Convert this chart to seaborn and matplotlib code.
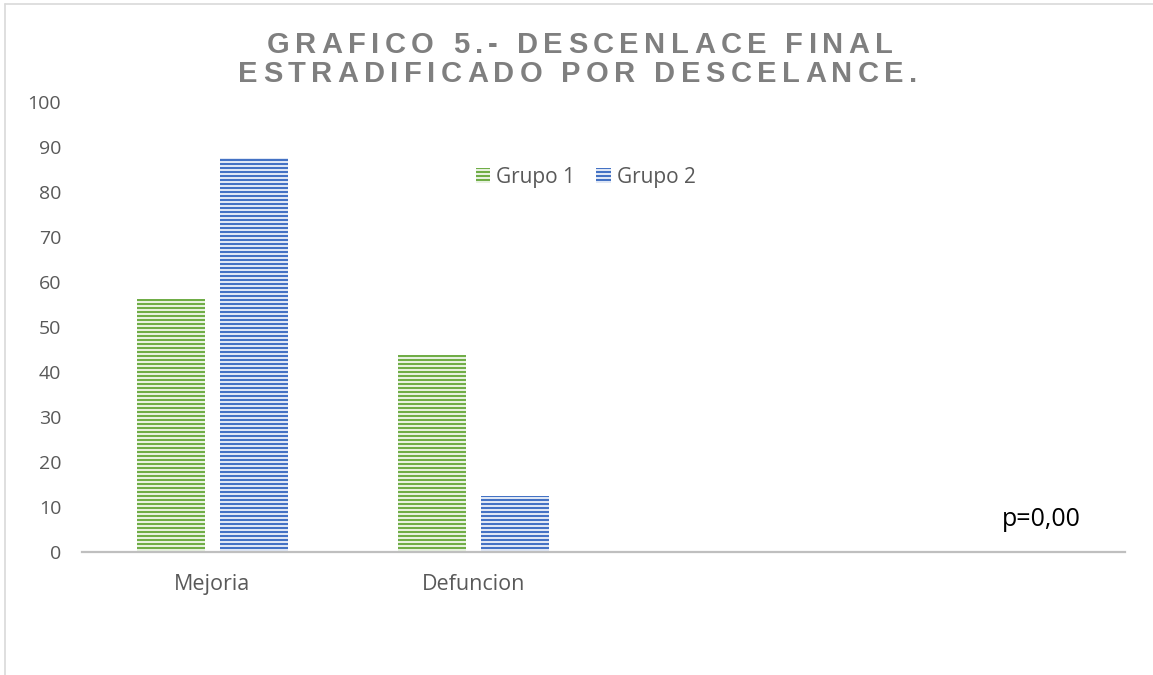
import numpy as np
import pandas as pd
import matplotlib
matplotlib.use('Agg')
import matplotlib.pyplot as plt
import seaborn as sns
from matplotlib.patches import Patch
from matplotlib.lines import Line2D

# ── Data ──────────────────────────────────────────────────────────────
categories = ['Mejoria', 'Defuncion']
groups = ['Grupo 1', 'Grupo 2']
grupo1 = [56.25, 43.75]
grupo2 = [87.5, 12.5]
yticks = list(range(0, 101, 10))
p_text = 'p=0,00'
title_lines = ['GRAFICO 5.- DESCENLACE FINAL',
               'ESTRADIFICADO POR DESCELANCE.']

colors = ['#70AD47', '#4472C4']
text_gray = '#595959'

df = pd.DataFrame({
    'categoria': categories * 2,
    'grupo': [g for g in groups for _ in categories],
    'valor': grupo1 + grupo2,
})

# 96 dpi so the hatch repeats on whole pixels; S converts sizes
DPI = 96
S = 100 / DPI

sns.set_style('white')
plt.rcParams['font.family'] = ['Open Sans', 'DejaVu Sans']
plt.rcParams['hatch.linewidth'] = 1.2 * S

fig = plt.figure(figsize=(1153 / DPI, 675 / DPI), dpi=DPI)
ax = fig.add_axes([0.0711, 0.1822, 0.9046, 0.6667])

sns.barplot(data=df, x='categoria', y='valor', hue='grupo',
            order=categories, hue_order=groups, palette=colors,
            width=0.637, gap=0.18, saturation=1, legend=False, ax=ax)

for bar in ax.patches:
    bar.set_hatch('----')
    bar.set_edgecolor('white')
    bar.set_linewidth(0)

ax.set_xlim(-0.5, 3.5)
ax.set_ylim(0, 100)
ax.set_yticks(yticks)
ax.set_xlabel('')
ax.set_ylabel('')
for side in ['top', 'right', 'left']:
    ax.spines[side].set_visible(False)
ax.spines['bottom'].set_color('#BFBFBF')
ax.spines['bottom'].set_linewidth(1.6 * S)
ax.tick_params(axis='both', length=0, colors=text_gray, labelsize=14 * S)
ax.tick_params(axis='y', pad=15 * S)
ax.tick_params(axis='x', pad=16 * S, labelsize=15.5 * S)

handles = [Patch(facecolor=c, edgecolor='white', hatch='----', linewidth=0)
           for c in colors]
leg = ax.legend(handles, groups, loc='center', bbox_to_anchor=(0.483, 0.833),
                ncol=2, frameon=False, handlelength=0.7, handleheight=0.7,
                handletextpad=0.3, columnspacing=1.0, fontsize=15 * S)
for t in leg.get_texts():
    t.set_color(text_gray)

ax.text(0.882, 0.058, p_text, transform=ax.transAxes, fontsize=18 * S,
        color='black', ha='left', va='baseline')


# ── Letter-spaced title ──────────────────────────────────────────────
def spaced_line(text, xc, y, size, spacing):
    renderer = fig.canvas.get_renderer()
    px = size * fig.dpi / 72
    widths = []
    for ch in text:
        if ch == ' ':
            widths.append(0.28 * px)
            continue
        t = fig.text(0, 0, ch, fontsize=size, weight='bold',
                     family='Liberation Sans')
        widths.append(t.get_window_extent(renderer).width)
        t.remove()
    total = sum(widths) + spacing * (len(text) - 1)
    x = xc * fig.bbox.width - total / 2
    for ch, w in zip(text, widths):
        if ch != ' ':
            fig.text(x / fig.bbox.width, y, ch, fontsize=size, weight='bold',
                     family='Liberation Sans', color='#7F7F7F',
                     ha='left', va='baseline')
        x += w + spacing


spaced_line(title_lines[0], 0.503, 0.921, 21 * S, 5.4)
spaced_line(title_lines[1], 0.501, 0.8785, 21 * S, 5.4)

# chart frame (top and left edges visible)
fig.add_artist(Line2D([5 / 1153, 1], [1 - 4 / 675, 1 - 4 / 675],
                      transform=fig.transFigure, color='#D9D9D9', lw=1.2 * S))
fig.add_artist(Line2D([5 / 1153, 5 / 1153], [0, 1 - 4 / 675],
                      transform=fig.transFigure, color='#D9D9D9', lw=1.2 * S))

fig.savefig('out.png', dpi=DPI)
